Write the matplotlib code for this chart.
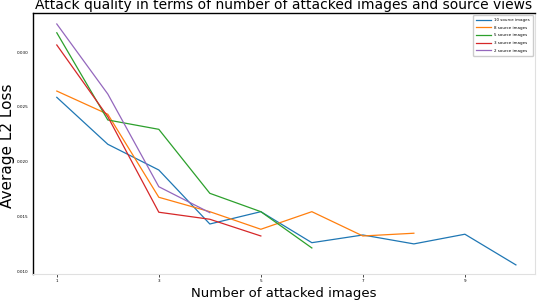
import matplotlib
matplotlib.use("Agg")
import matplotlib.pyplot as plt

# number of attacked images
x10 = [1, 2, 3, 4, 5, 6, 7, 8, 9, 10]

# average L2 loss per source-view setting
loss_10 = [0.02588, 0.02161, 0.01927, 0.01436, 0.01548, 0.01266, 0.01336, 0.01255, 0.01343, 0.01064]
loss_8 = [0.02645, 0.02434, 0.01679, 0.01548, 0.01388, 0.01548, 0.01327, 0.01352]
loss_5 = [0.03175, 0.02382, 0.02297, 0.01715, 0.01548, 0.01218]
loss_3 = [0.03064, 0.02412, 0.01543, 0.01479, 0.01327]
loss_2 = [0.03255, 0.02618, 0.01775, 0.01539]

labels = ["10 source images", "8 source images", "5 source images", "3 source images", "2 source images"]
xticks = [1, 3, 5, 7, 9]
yticks = [0.010, 0.015, 0.020, 0.025, 0.030]

fig = plt.figure(figsize=(5.38, 3.02), dpi=100)
ax = fig.add_axes([0.061, 0.093, 0.933, 0.864])

for ys, lab in zip([loss_10, loss_8, loss_5, loss_3, loss_2], labels):
    ax.plot(x10[:len(ys)], ys, linewidth=0.9, label=lab)

ax.set_xlim(0.53, 10.37)
ax.set_ylim(0.00982, 0.03355)
ax.set_xticks(xticks)
ax.set_xticklabels([str(t) for t in xticks], fontsize=3)
ax.set_yticks(yticks)
ax.set_yticklabels(["%.3f" % t for t in yticks], fontsize=3)
ax.tick_params(axis="y", length=0, pad=3)
ax.tick_params(axis="x", length=2, width=0.5, pad=2)

for side in ["left", "top"]:
    ax.spines[side].set_color("black")
    ax.spines[side].set_linewidth(1.0)
for side in ["bottom", "right"]:
    ax.spines[side].set_color("#e0e0e0")
    ax.spines[side].set_linewidth(0.8)

ax.set_title("Attack quality in terms of number of attacked images and source views", fontsize=10, pad=3)
ax.set_xlabel("Number of attacked images", fontsize=9.5)
ax.xaxis.set_label_coords(0.5, -0.05)
ax.set_ylabel("Average L2 Loss", fontsize=11)
ax.yaxis.set_label_coords(-0.05, 0.49)
ax.yaxis.label.set_va("center")
ax.legend(loc="upper right", fontsize=2.9, handlelength=3.5, framealpha=1, borderpad=0.8, labelspacing=0.9)

fig.savefig("out.png", dpi=100)
